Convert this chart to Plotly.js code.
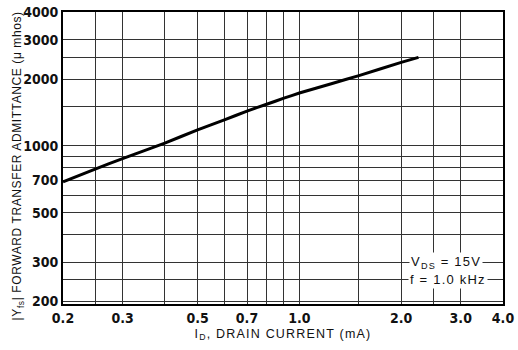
<!DOCTYPE html>
<html>
<head>
<meta charset="utf-8">
<script src="https://cdn.plot.ly/plotly-3.0.1.min.js"></script>
<style>
html,body{margin:0;padding:0;background:#fff;}
#chart{width:518px;height:350px;}
.xtitle, .annotation-text{letter-spacing:1.2px;}
</style>
</head>
<body>
<div id="chart"></div>
<script>
// Drain current (mA)
const drainCurrent = [0.2, 0.25, 0.3, 0.4, 0.5, 0.6, 0.7, 0.8, 0.9, 1.0, 1.25, 1.5, 2.0, 2.25];
// |Yfs| forward transfer admittance (umhos)
const admittance = [690, 790, 878, 1030, 1182, 1310, 1435, 1540, 1640, 1730, 1910, 2070, 2375, 2500];

const xTickVals = [0.2, 0.3, 0.5, 0.7, 1.0, 2.0, 3.0, 4.0];
const xTickText = ["0.2", "0.3", "0.5", "0.7", "1.0", "2.0", "3.0", "4.0"];
const xMinorGrid = [0.25, 0.4, 0.6, 0.8, 0.9, 1.5, 2.5];
const yTickVals = [200, 300, 500, 700, 1000, 2000, 3000, 4000];
const yTickText = ["200", "300", "500", "700", "1000", "2000", "3000", "4000"];
const yMinorGrid = [250, 400, 600, 800, 900, 1500, 2500];

const tickFont = {family: "Liberation Sans Narrow, DejaVu Sans Condensed, Arial Narrow, sans-serif", size: 14, color: "#111", weight: "bold"};
const titleFont = {family: "Liberation Sans, Arial, sans-serif", size: 12.5, color: "#111"};
const yTitleFont = {family: "Liberation Sans, Arial, sans-serif", size: 12, color: "#111"};
const noteFont = {family: "Liberation Sans, Arial, sans-serif", size: 13, color: "#111"};

const trace = {
  x: drainCurrent, y: admittance, type: "scatter", mode: "lines",
  line: {color: "#000", width: 3, shape: "spline", smoothing: 0.3},
  hoverinfo: "skip"
};

const gridStyle = {showgrid: true, gridcolor: "#333", gridwidth: 1};

const layout = {
  width: 518, height: 350,
  margin: {l: 63, r: 15, t: 12, b: 46},
  paper_bgcolor: "#fff", plot_bgcolor: "#fff",
  showlegend: false,
  xaxis: {
    type: "log", range: [Math.log10(0.2), Math.log10(4.0)],
    tickmode: "array", tickvals: xTickVals, ticktext: xTickText,
    showgrid: true, gridcolor: "#333", gridwidth: 1,
    minor: Object.assign({tickmode: "array", tickvals: xMinorGrid, ticks: ""}, gridStyle),
    showline: true, linecolor: "#000", linewidth: 2, mirror: true,
    ticks: "", zeroline: false, tickfont: tickFont,
    title: {text: "I<sub>D</sub>, DRAIN CURRENT (mA)", font: titleFont, standoff: 4}
  },
  yaxis: {
    type: "log", range: [Math.log10(195), Math.log10(4000)],
    tickmode: "array", tickvals: yTickVals, ticktext: yTickText,
    showgrid: true, gridcolor: "#333", gridwidth: 1,
    minor: Object.assign({tickmode: "array", tickvals: yMinorGrid, ticks: ""}, gridStyle),
    showline: true, linecolor: "#000", linewidth: 2, mirror: true,
    ticks: "", zeroline: false, tickfont: tickFont
  },
  annotations: [
    {xref: "paper", yref: "paper", x: -45 / 440, y: (304 - 166) / 292, xanchor: "center", yanchor: "middle",
     textangle: -90, showarrow: false,
     text: "|Y<sub>fs</sub>| FORWARD TRANSFER ADMITTANCE (\u03bc mhos)", font: yTitleFont},
    {xref: "x", yref: "y", x: Math.log10(2.72), y: Math.log10(300), text: "V<sub>DS</sub> = 15V",
     showarrow: false, bgcolor: "#fff", font: noteFont, borderpad: 1},
    {xref: "x", yref: "y", x: Math.log10(2.75), y: Math.log10(250), text: "f = 1.0 kHz",
     showarrow: false, bgcolor: "#fff", font: noteFont, borderpad: 1}
  ]
};

Plotly.newPlot("chart", [trace], layout, {staticPlot: true, displayModeBar: false}).then(function () {
  document.querySelectorAll(".annotation-text").forEach(function (t, i) {
    if (i === 0) t.style.letterSpacing = "0.6px";
  });
});
</script>
</body>
</html>
